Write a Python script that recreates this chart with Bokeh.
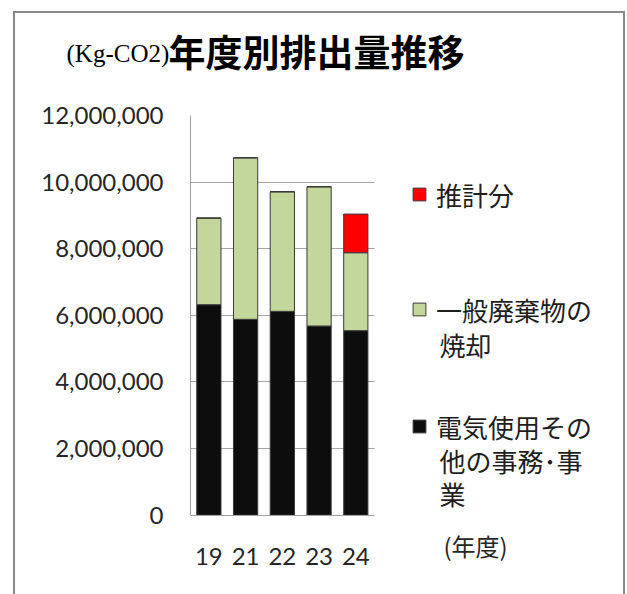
from bokeh.plotting import figure
from bokeh.models import (ColumnDataSource, Range1d, FixedTicker, NumeralTickFormatter,
                          Legend, LegendItem, Label)
from bokeh.embed import file_html
from bokeh.resources import INLINE

# ---- data ----
years = ["19", "21", "22", "23", "24"]
electricity = [6320000, 5880000, 6120000, 5680000, 5540000]   # 電気使用その他の事務･事業
waste = [2600000, 4850000, 3590000, 4180000, 2340000]         # 一般廃棄物の焼却
estimate = [0, 0, 0, 0, 1160000]                              # 推計分
y_ticks = [0, 2000000, 4000000, 6000000, 8000000, 10000000, 12000000]
y_max = 12000000

series = ["electricity", "waste", "estimate"]
colors = ["#0d0d0d", "#c3d69b", "#ff0000"]

xpos = [i + 0.5 for i in range(len(years))]
source = ColumnDataSource(dict(x=xpos, electricity=electricity,
                               waste=waste, estimate=estimate))

# ---- geometry (pixels) ----
W, H = 612, 583                 # element size incl. CSS border
CW, CH = 608, 581               # drawing canvas
left, top = 175, 102            # frame offsets inside canvas
cat_px = 36.4                   # width of one category
plot_h = 398                    # pixel height of 0..y_max
frame_w, frame_h = CW - left, CH - top
x_hi = frame_w / cat_px
y_lo = -y_max * (frame_h - plot_h) / plot_h

p = figure(x_range=Range1d(0, x_hi), y_range=Range1d(y_lo, y_max),
           width=W, height=H, output_backend="svg", toolbar_location=None,
           min_border_left=left, min_border_right=0, min_border_top=top,
           min_border_bottom=0)
p.outline_line_color = None
p.background_fill_color = "white"
p.border_fill_color = "white"
p.styles = {"margin-left": "13px", "margin-top": "11px",
            "border-style": "solid", "border-color": "#8a8a8a",
            "border-width": "2px 2px 0px 2px"}

renderers = p.vbar_stack(series, x="x", width=0.66, color=colors,
                         line_color="#3a3a3a", line_width=1, source=source)

# axes
p.yaxis.ticker = FixedTicker(ticks=y_ticks)
p.yaxis.formatter = NumeralTickFormatter(format="0,0")
p.yaxis.bounds = (0, y_max)
p.xaxis.ticker = FixedTicker(ticks=xpos)
p.xaxis.major_label_overrides = {x: y for x, y in zip(xpos, years)}
p.xaxis.bounds = (0, len(years))
p.xaxis.fixed_location = 0
for ax in (p.xaxis[0], p.yaxis[0]):
    ax.axis_line_color = "#a0a0a0"
    ax.axis_line_width = 1
    ax.major_tick_line_color = None
    ax.minor_tick_line_color = None
    ax.major_label_text_font = "Lato"
    ax.major_label_text_font_size = "24px"
    ax.major_label_text_color = "#262626"
p.yaxis.major_label_standoff = 21
p.xaxis.major_label_standoff = 27
p.xgrid.grid_line_color = None
p.ygrid.ticker = FixedTicker(ticks=y_ticks[1:])
p.ygrid.grid_line_color = "#a6a6a6"
p.ygrid.grid_line_width = 1
p.ygrid.cross_bounds = (0, len(years))

# legend: one legend per item, text continuation lines as labels
def make_legend(label, r, loc):
    lg = Legend(items=[LegendItem(label=label, renderers=[r])], location=loc,
                background_fill_alpha=0, border_line_color=None, padding=0,
                margin=0, spacing=0, glyph_width=16, glyph_height=16,
                label_height=44, label_standoff=9,
                label_text_font="Noto Sans CJK JP", label_text_font_size="26px",
                label_text_color="#1e1e1e")
    p.add_layout(lg)

make_legend("推計分", renderers[2], (221, 380))
make_legend("一般廃棄物の", renderers[1], (221, 265))
make_legend("電気使用その", renderers[0], (221, 148))

def canvas_label(x, y, text, size, font="Noto Sans CJK JP", style="normal",
                 baseline="middle", color="#1e1e1e", place="center"):
    p.add_layout(Label(x=x, y=y, x_units="canvas", y_units="canvas", text=text,
                       text_font=font, text_font_size=size, text_font_style=style,
                       text_color=color, text_baseline=baseline), place)

canvas_label(422, 329, "焼却", "26px")
canvas_label(422, 445, "他の事務･事", "26px")
canvas_label(422, 478, "業", "26px")
canvas_label(426, 530, "(年度)", "24px", color="#262626")

# title
canvas_label(49, 38, "(Kg-CO2)", "25px", font="Liberation Serif",
             baseline="alphabetic", color="#000000", place="above")
canvas_label(151, 35, "年度別排出量推移", "37px", style="bold",
             color="#000000", place="above")

open("out.html", "w").write(file_html(p, INLINE))
